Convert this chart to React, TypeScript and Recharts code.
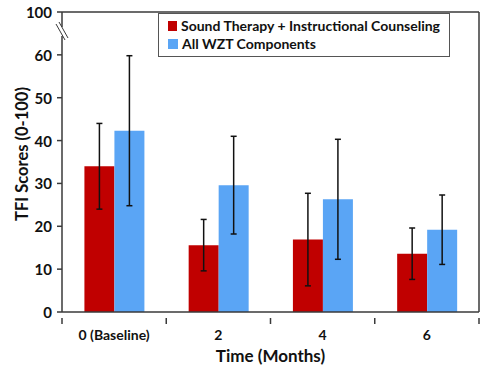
import { BarChart, Bar, XAxis, YAxis, ErrorBar, ReferenceLine } from 'recharts'

const categories = ['0 (Baseline)', '2', '4', '6']
const soundTherapy = [34.0, 15.6, 16.9, 13.6]
const soundTherapyErr = [10.0, 6.0, 10.8, 6.0]
const wztAll = [42.3, 29.6, 26.3, 19.2]
const wztAllErr = [17.5, 11.4, 14.0, 8.1]
// 70 on the scale is drawn as "100" above the axis break
const yTicks = [0, 10, 20, 30, 40, 50, 60, 70]
const yTickLabels = ['0', '10', '20', '30', '40', '50', '60', '100']
const seriesNames = ['Sound Therapy + Instructional Counseling', 'All WZT Components']

const data = categories.map((c, i) => ({
  time: c,
  st: soundTherapy[i],
  stErr: soundTherapyErr[i],
  wzt: wztAll[i],
  wztErr: wztAllErr[i],
}))

const RED = '#C00000'
const BLUE = '#5AA5F5'
const AXIS = '#3a3a3a'
const FONT = 'Lato, "Open Sans", sans-serif'

const W = 500
const H = 365
const PLOT_LEFT = 62
const PLOT_RIGHT = 479
const BAND = (PLOT_RIGHT - PLOT_LEFT) / categories.length

// eslint-disable-next-line @typescript-eslint/no-explicit-any
const YTick = (props: any) => {
  const { x, y, payload } = props
  const idx = yTicks.indexOf(payload.value)
  const label = idx >= 0 ? yTickLabels[idx] : String(payload.value)
  return (
    <g>
      <text x={x} y={y} textAnchor="end" dominantBaseline="central" fontFamily={FONT} fontWeight={700} fontSize={15} fill="#111">
        {label}
      </text>
      {payload.value === 70 && (
        <g>
          <rect x={PLOT_LEFT - 2} y={y + 15} width={4} height={9} fill="#fff" />
          <line x1={PLOT_LEFT - 6} y1={y + 12} x2={PLOT_LEFT + 3} y2={y + 28} stroke={AXIS} strokeWidth={1} />
          <line x1={PLOT_LEFT - 3} y1={y + 10} x2={PLOT_LEFT + 6} y2={y + 26} stroke={AXIS} strokeWidth={1} />
        </g>
      )}
    </g>
  )
}

// eslint-disable-next-line @typescript-eslint/no-explicit-any
const XTick = (props: any) => {
  const { x, y, payload, index } = props
  const last = index === categories.length - 1
  return (
    <g>
      <line x1={x - BAND / 2} y1={y - 2} x2={x - BAND / 2} y2={y + 4} stroke={AXIS} strokeWidth={1.5} />
      {last && <line x1={x + BAND / 2} y1={y - 2} x2={x + BAND / 2} y2={y + 4} stroke={AXIS} strokeWidth={1.5} />}
      <text x={x} y={y + 14} textAnchor="middle" dominantBaseline="central" fontFamily={FONT} fontWeight={700} fontSize={14} fill="#111">
        {payload.value}
      </text>
    </g>
  )
}

const LegendBox = () => (
  <div
    style={{
      position: 'absolute',
      left: 158,
      top: 13,
      width: 272,
      border: '1px solid #555',
      padding: '3px 9px 3px 9px',
      fontFamily: FONT,
      fontWeight: 700,
      fontSize: 14,
      lineHeight: '18px',
      color: '#111',
      background: '#fff',
      whiteSpace: 'nowrap',
    }}
  >
    {seriesNames.map((name, i) => (
      <div key={name} style={{ display: 'flex', alignItems: 'center' }}>
        <span style={{ display: 'inline-block', width: 10, height: 10, background: i === 0 ? RED : BLUE, marginRight: 4 }} />
        {name}
      </div>
    ))}
  </div>
)

export default function App() {
  return (
    <div style={{ position: 'absolute', left: 0, top: 0, width: W, height: H, background: '#fff' }}>
      <BarChart
        width={W}
        height={H}
        data={data}
        margin={{ top: 12, right: 20, left: 0, bottom: 0 }}
        barCategoryGap="21.5%"
        barGap={0}
      >
        <XAxis
          dataKey="time"
          height={53}
          axisLine={{ stroke: AXIS, strokeWidth: 1.5 }}
          tickLine={false}
          tick={<XTick />}
          interval={0}
          label={{
            value: 'Time (Months)',
            position: 'insideBottom',
            offset: 3,
            style: { fontFamily: FONT, fontWeight: 700, fontSize: 17, fill: '#111' },
          }}
        />
        <YAxis
          width={62}
          domain={[0, 70]}
          ticks={yTicks}
          interval={0}
          axisLine={{ stroke: AXIS, strokeWidth: 1.5 }}
          tickLine={{ stroke: AXIS, strokeWidth: 1.5 }}
          tickSize={5}
          tickMargin={5}
          tick={<YTick />}
          label={{
            value: 'TFI Scores (0-100)',
            angle: -90,
            position: 'insideLeft',
            offset: 22,
            dy: -8,
            style: { textAnchor: 'middle', fontFamily: FONT, fontWeight: 700, fontSize: 16.5, fill: '#111' },
          }}
        />
        <YAxis
          yAxisId="right"
          orientation="right"
          width={1}
          domain={[0, 70]}
          tick={false}
          tickLine={false}
          axisLine={{ stroke: AXIS, strokeWidth: 1.5 }}
        />
        <ReferenceLine y={70} stroke={AXIS} strokeWidth={1.5} />
        <Bar dataKey="st" name={seriesNames[0]} fill={RED} isAnimationActive={false}>
          <ErrorBar dataKey="stErr" width={3} stroke="#111" strokeWidth={1.5} />
        </Bar>
        <Bar dataKey="wzt" name={seriesNames[1]} fill={BLUE} isAnimationActive={false}>
          <ErrorBar dataKey="wztErr" width={3} stroke="#111" strokeWidth={1.5} />
        </Bar>
      </BarChart>
      <LegendBox />
    </div>
  )
}
